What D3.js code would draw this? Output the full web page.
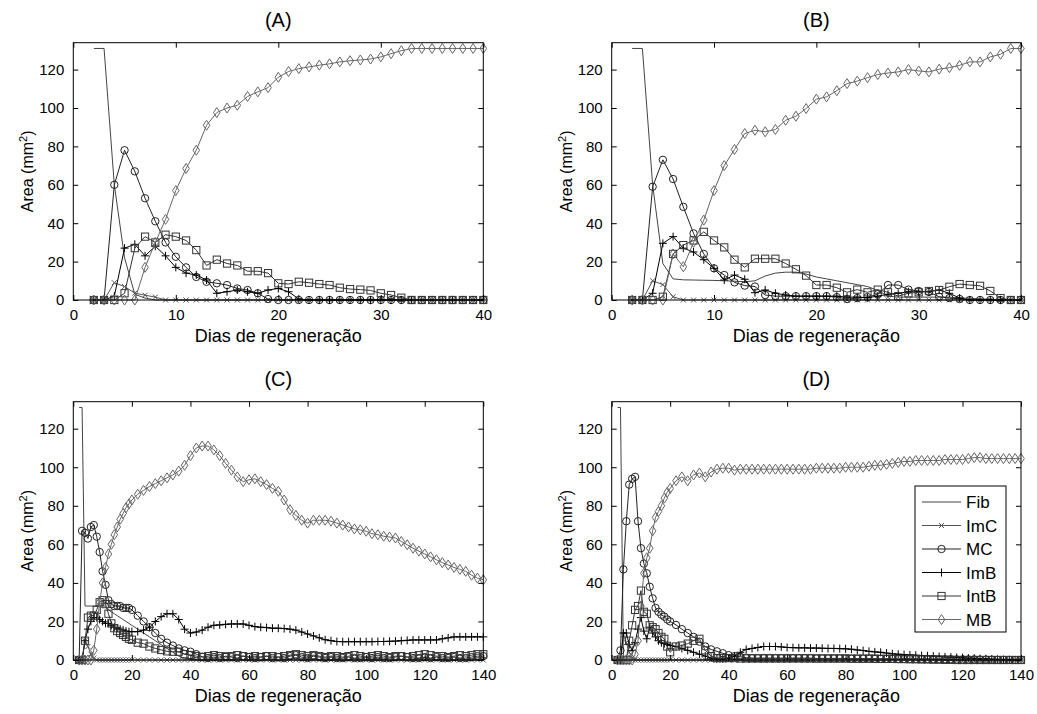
<!DOCTYPE html>
<html>
<head>
<meta charset="utf-8">
<script src="https://cdnjs.cloudflare.com/ajax/libs/d3/7.8.5/d3.min.js"></script>
<style>
body { margin: 0; background: #fff; }
text { font-family: "Liberation Sans", Arial, sans-serif; fill: #000; }
</style>
</head>
<body>
<div id="chart"></div>
<script>
////////////////////////////////////////////////////////////////////////
// Data

let seriesNames = ["Fib", "ImC", "MC", "ImB", "IntB", "MB"];
let seriesMarks = ["none", "x", "circle", "plus", "square", "diamond"];
let seriesColors = ["#444", "#555", "#222", "#000", "#333", "#666"];

// panels A and B : one value per day, days 2..40
let daysAB = [2,3,4,5,6,7,8,9,10,11,12,13,14,15,16,17,18,19,20,21,
              22,23,24,25,26,27,28,29,30,31,32,33,34,35,36,37,38,39,40];

let fibA  = [131,131,60,22,3,1,0,0,0,0,0,0,0,0,0,0,0,0,0,0, 0,0,0,0,0,0,0,0,0,0,0,0,0,0,0,0,0,0,0];
let imcA  = [0,0,9,7,3.6,2.5,1.5,0,0,0,0,0,0,0,0,0,0,0,0,0, 0,0,0,0,0,0,0,0,0,0,0,0,0,0,0,0,0,0,0];
let mcA   = [0,0,60,78,67,53,41,30,22.5,17,12,9.5,8.7,7.8,6,5.2,3.5,0.5,0,0, 0,0,0,0,0,0,0,0,0,0,0,0,0,0,0,0,0,0,0];
let imbA  = [0,0,2,27,29,23,28,23,17,14,13,10.4,3.5,4.3,5.2,4.3,3.5,5.2,6,4.3, 0.5,0,0,0,0,0,0,0,0,0,0,0,0,0,0,0,0,0,0];
let intbA = [0,0,0,3.5,27,33,30,34,33,31,26,18,21,19,18,15,15,14,8.7,8.3, 9.5,9,8.3,7.8,6.4,5.7,5.4,5,3.5,2.6,1.2,0,0,0,0,0,0,0,0];
let mbA   = [0,0,0,0,0,17,30,42,57,68.5,78,91,97.6,100,101.4,106,108.4,110.6,116,119,
             120.5,121.4,122.3,123,124,124.6,125,125.5,126.6,128.3,129.8,131,131,131,131,131,131,131,131];

let fibB  = [131,131,60,19,11,10.5,10.4,10.3,10.2,10,9.8,9.5,10,12.5,14,14.5,14.5,13.5,12,11,
             10,9,8,7,5,2,1.5,1.5,1.5,1.5,1.5,1.5,1,1,0.5,0.5,0,0,0];
let imcB  = [0,0,10,8,1.7,0,0,0,0,0,0,0,0,0,0,0,0,0,0,0, 0,0,0,0,0,0,0,0,0,0,0,0,0,0,0,0,0,0,0];
let mcB   = [0,0,59,73,63,48.5,34.7,24,16.5,13,9.2,7.5,7,2.6,2,2,2,2,2,2,
             1.5,0.5,1,1.5,3,7.8,7.8,5.4,4.7,4.2,1.7,1,0.5,0,0,0,0,0,0];
let imbB  = [0,0,3.5,29.5,33,27,25,21,16.5,10.4,13,10.8,3.8,5.2,3.5,2.6,2,2,2,2,
             2,1.5,1.5,1.2,2,3,3.5,4.3,4.3,4.3,5.2,3.5,1,0,0,0,0,0,0];
let intbB = [0,0,0,1.7,24,28.6,31,35.5,31,27.4,21,17,21.5,21.5,21.5,19,16,12.7,7.8,7.8,
             6.4,4,5.4,4,5.4,4,2,3.5,4,4.7,5.2,6.9,8.3,7.8,7.4,4.7,1,0,0];
let mbB   = [0,0,0,0,24,17.3,30,41.6,57,70,78.4,86.7,88.4,87.6,88.8,93.6,95.7,99.7,104.6,105.8,
             109,112.7,114,115.8,117.4,118.2,118.8,120,119.3,118.8,120.2,121,122.2,124,124,126.6,128,131,131];

// panels C and D : daily up to day 20, then every second day up to 140
let daysCD = [2,3,4,5,6,7,8,9,10,11,12,13,14,15,16,17,18,19,20,
              22,24,26,28,30,32,34,36,38,40,
              42,44,46,48,50,52,54,56,58,60,
              62,64,66,68,70,72,74,76,78,80,
              82,84,86,88,90,92,94,96,98,100,
              102,104,106,108,110,112,114,116,118,120,
              122,124,126,128,130,132,134,136,138,140];

let fibC  = [131,131,28,28,28,28,28,28,28,28,26,25,24,23,22,21,20,19,18,
             16,14,12,10,8,6,4,2,1,0,
             0,0,0,0,0,0,0,0,0,0, 0,0,0,0,0,0,0,0,0,0, 0,0,0,0,0,0,0,0,0,0,
             0,0,0,0,0,0,0,0,0,0, 0,0,0,0,0,0,0,0,0,0];
let imcC  = [0,0,10,7,3,1,0,0,0,0,0,0,0,0,0,0,0,0,0,
             0,0,0,0,0,0,0,0,0,0, 0,0,0,0,0,0,0,0,0,0, 0,0,0,0,0,0,0,0,0,0,
             0,0,0,0,0,0,0,0,0,0, 0,0,0,0,0,0,0,0,0,0, 0,0,0,0,0,0,0,0,0,0];
let mcC   = [0,67,66,63,69,70,64,56,46,39,31,29,28,28,28,27,27,27,26,
             23,20,17,14,11,9,7.5,6,5,4.3,
             3,1.7,1,1.5,1,2,1.5,1,2,1.5,
             1,1.5,2,1,1.5,1,2,2.5,1.5,1,
             2,1.5,1,1.5,1,1,1.5,1,1,1.5,
             1,1.5,1,1,1.5,2,1.5,1,1,1.5,
             1,1.5,1,1,1.5,1,1,1.5,2,2];
let imbC  = [0,0,10,16,20,22,22,21,20,19,19,18,17,16.5,16,15.6,15,14.7,14.7,
             14.7,15.5,17,20,22.5,24,24,21,16,14,
             14.5,15.5,17,18,18.2,18.5,18.7,18.7,18.7,18,
             17.3,17,16.8,16.5,16.5,16.3,16,15.5,14.5,13.5,
             12.5,11.5,10.5,10,9.6,9.5,9.5,9.5,9.5,9.5,
             9.5,9.6,9.6,9.7,9.8,10,10.2,10.4,10.4,10.4,
             10.4,10.4,11,11.5,12,12,12,12,12,12];
let intbC = [0,0,10,22,23,23,26,30,31,29,24,19,16.5,15,14,13,12,11,10.5,
             9,8.5,7,6,5.2,4.5,4.3,4.3,3,2.6,
             2,1.5,2,2.5,2,1.5,2,2.5,2,1.5,
             2,1.5,2,2,1.5,2,2.5,3,2.5,2,
             2.5,2,1.5,2,2,1.5,2,2.5,2,1.5,
             2,2.5,2,1.5,2,2,1.5,2,2.5,3,
             2.5,2,2,1.5,2,2.5,2,2.5,3,3];
let mbC   = [0,0,0,0,0,5,16,30,40,48,55,60,65,69,73,76,79,81,83,
             86,88,90,91.5,93,94.5,96,98,101,106,
             110,111,111,109,106,102,98.5,95,92.5,93.5,
             94,92.5,91,89,87.5,83,78,75,72.5,71,
             72.5,72.5,72.5,72,71,70,69,68,67.5,66.8,
             65.5,65,64.2,63.8,63.3,61.5,59.8,58,56.5,55,
             53.5,52,50.5,49.3,48,47,46,44,42.5,41.6];

let fibD  = [131,131,0,0,0,0,0,0,0,0,0,0,0,0,0,0,0,0,0,
             0,0,0,0,0,0,0,0,0,0, 0,0,0,0,0,0,0,0,0,0, 0,0,0,0,0,0,0,0,0,0,
             0,0,0,0,0,0,0,0,0,0, 0,0,0,0,0,0,0,0,0,0, 0,0,0,0,0,0,0,0,0,0];
let imcD  = [0,0,13,9,4,1,0,0,0,0,0,0,0,0,0,0,0,0,0,
             0,0,0,0,0,0,0,0,0,0, 0,0,0,0,0,0,0,0,0,0, 0,0,0,0,0,0,0,0,0,0,
             0,0,0,0,0,0,0,0,0,0, 0,0,0,0,0,0,0,0,0,0, 0,0,0,0,0,0,0,0,0,0];
let mcD   = [0,5,47,72,91,94,95,72,58,50,45,38,32,27,25,23.5,22.5,21,20,
             18.2,16,14,12,9.5,7,5.5,4.5,3.5,2.5,
             2,1.7,1.2,1,1,1,1,1,1,1,
             1,1,1,1,0.8,0.8,0.8,0.8,0.8,0.8,
             0.7,0.7,0.7,0.7,0.6,0.6,0.6,0.6,0.5,0.5,
             0.5,0.5,0.5,0.5,0.4,0.4,0.4,0.4,0.3,0.3,
             0.3,0.3,0.2,0.2,0.2,0.1,0.1,0.1,0,0];
let imbD  = [0,0,14,14,8,5,9,16,22,15,11,17,14,12,10,9,8.5,8,7.5,
             7,6,5,4,3,2,1,0.5,0.5,1,
             2,4,5.5,6,6.5,7,7,7,6.8,6.5,
             6.4,6.3,6.3,6.2,6.2,6.1,6,6,5.9,5.8,
             5.6,5.2,4.9,4.5,4.2,4,3.6,3.2,3,2.8,
             2.6,2.5,2.3,2.2,2,1.8,1.6,1.5,1.3,1.2,
             1,0.9,0.7,0.6,0.4,0.3,0.1,0,0,0];
let intbD = [0,0,0,0,10,18,26,28,36,25,24,18,17,16,14,12,11,7,4,
             7,7.5,8.5,10,11,5,2,1,1,1,
             1,0.8,0.8,0.8,0.8,0.8,0.8,0.8,0.8,0.8,
             0.8,0.8,0.8,0.8,0.8,0.8,0.8,0.8,0.8,0.8,
             0.7,0.7,0.7,0.7,0.7,0.6,0.6,0.6,0.5,0.5,
             0.4,0.4,0.3,0.3,0.2,0.2,0.1,0.1,0,0,
             0,0,0,0,0,0,0,0,0,0];
let mbD   = [0,0,0,0,0,0,3,10,28,45,53,58,67,74,77,80,84,87,89,
             93,95,93,96,97,95,97.5,99,99.5,99.5,
             98.5,99,99,99,99,99,99,99,99,99,
             99,99,99,99,99.5,99.5,99.5,99.5,99.5,100,
             100,100,100,100.5,101,101,101.5,102,102.5,103,
             103,103.5,103.5,103.5,103.5,103.5,104,104,104,104,
             104.5,105,105,104.5,104.5,104.5,104.5,104.5,104.5,104.5];

let yTicks = [0, 20, 40, 60, 80, 100, 120];

////////////////////////////////////////////////////////////////////////
// Layout

let panels = [
  { title: "(A)", left: 73.3, right: 483.3, top: 42.7, bottom: 300, xmax: 40,
    xticks: [0,10,20,30,40], days: daysAB, series: [fibA, imcA, mcA, imbA, intbA, mbA] },
  { title: "(B)", left: 611.7, right: 1021, top: 42.7, bottom: 300, xmax: 40,
    xticks: [0,10,20,30,40], days: daysAB, series: [fibB, imcB, mcB, imbB, intbB, mbB] },
  { title: "(C)", left: 73.3, right: 483.3, top: 401.7, bottom: 660, xmax: 140,
    xticks: [0,20,40,60,80,100,120,140], days: daysCD, series: [fibC, imcC, mcC, imbC, intbC, mbC] },
  { title: "(D)", left: 611.7, right: 1021, top: 401.7, bottom: 660, xmax: 140,
    xticks: [0,20,40,60,80,100,120,140], days: daysCD, series: [fibD, imcD, mcD, imbD, intbD, mbD], legend: true }
];

let svg = d3.select("#chart")
  .append("svg")
  .attr("width", 1037)
  .attr("height", 714);

function drawMarker(g, type, cx, cy, color)
{
  if (type == "circle") {
    g.append("circle").attr("cx", cx).attr("cy", cy).attr("r", 3.7)
      .attr("fill", "none").attr("stroke", color);
  } else if (type == "square") {
    g.append("rect").attr("x", cx - 3.6).attr("y", cy - 3.6)
      .attr("width", 7.2).attr("height", 7.2)
      .attr("fill", "none").attr("stroke", color);
  } else if (type == "diamond") {
    g.append("path")
      .attr("d", "M" + cx + "," + (cy - 5) + "L" + (cx + 3.3) + "," + cy +
                 "L" + cx + "," + (cy + 5) + "L" + (cx - 3.3) + "," + cy + "Z")
      .attr("fill", "none").attr("stroke", color);
  } else if (type == "plus") {
    g.append("path")
      .attr("d", "M" + (cx - 4) + "," + cy + "H" + (cx + 4) + "M" + cx + "," + (cy - 4) + "V" + (cy + 4))
      .attr("stroke", color);
  } else if (type == "x") {
    g.append("path")
      .attr("d", "M" + (cx - 2.5) + "," + (cy - 2.5) + "L" + (cx + 2.5) + "," + (cy + 2.5) +
                 "M" + (cx - 2.5) + "," + (cy + 2.5) + "L" + (cx + 2.5) + "," + (cy - 2.5))
      .attr("stroke", color);
  }
}

////////////////////////////////////////////////////////////////////////
// Panels

panels.forEach(function(p) {
  let xScale = d3.scaleLinear().domain([0, p.xmax]).range([p.left, p.right]);
  let yScale = d3.scaleLinear().domain([0, 134]).range([p.bottom, p.top]);
  let g = svg.append("g");

  // series lines + markers
  p.series.forEach(function(vals, si) {
    let pts = p.days.map(function(d, i) { return { day: d, v: vals[i] }; });
    let line = d3.line()
      .x(function(d) { return xScale(d.day); })
      .y(function(d) { return yScale(d.v); });
    g.append("path")
      .attr("d", line(pts))
      .attr("fill", "none")
      .attr("stroke", seriesColors[si])
      .attr("stroke-width", 1);
    let mg = g.append("g");
    pts.forEach(function(d) {
      drawMarker(mg, seriesMarks[si], xScale(d.day), yScale(d.v), seriesColors[si]);
    });
  });

  // axes, ticks pointing inwards on all four sides
  let bottomAxis = g.append("g")
    .attr("transform", "translate(0," + p.bottom + ")")
    .call(d3.axisBottom(xScale).tickValues(p.xticks).tickSize(-5).tickPadding(9));
  g.append("g")
    .attr("transform", "translate(0," + p.top + ")")
    .call(d3.axisTop(xScale).tickValues(p.xticks).tickSize(-5).tickFormat(""));
  let leftAxis = g.append("g")
    .attr("transform", "translate(" + p.left + ",0)")
    .call(d3.axisLeft(yScale).tickValues(yTicks).tickSize(-5).tickPadding(9));
  g.append("g")
    .attr("transform", "translate(" + p.right + ",0)")
    .call(d3.axisRight(yScale).tickValues(yTicks).tickSize(-5).tickFormat(""));

  g.selectAll(".domain").remove();
  g.selectAll(".tick line").attr("stroke", "#000");
  g.selectAll(".tick text").attr("font-size", 15).attr("font-family", "Liberation Sans, Arial, sans-serif");

  g.append("rect")
    .attr("x", p.left).attr("y", p.top)
    .attr("width", p.right - p.left).attr("height", p.bottom - p.top)
    .attr("fill", "none").attr("stroke", "#000").attr("stroke-width", 1);

  // titles and labels
  let midX = (p.left + p.right) / 2;
  g.append("text")
    .attr("x", midX).attr("y", p.top - 16)
    .attr("text-anchor", "middle").attr("font-size", 20)
    .text(p.title);
  g.append("text")
    .attr("x", midX).attr("y", p.bottom + 42)
    .attr("text-anchor", "middle").attr("font-size", 18)
    .text("Dias de regeneração");
  let yl = g.append("text")
    .attr("transform", "translate(" + (p.left - 40) + "," + ((p.top + p.bottom) / 2) + ") rotate(-90)")
    .attr("text-anchor", "middle").attr("font-size", 16);
  yl.append("tspan").text("Area (mm");
  yl.append("tspan").attr("baseline-shift", "super").attr("font-size", 11).text("2");
  yl.append("tspan").text(")");

  // legend
  if (p.legend) {
    let lg = g.append("g");
    lg.append("rect")
      .attr("x", 915).attr("y", 486).attr("width", 91).attr("height", 146)
      .attr("fill", "#fff").attr("stroke", "#000");
    seriesNames.forEach(function(name, si) {
      let ly = 502 + si * 23.5;
      lg.append("line")
        .attr("x1", 922).attr("x2", 961).attr("y1", ly).attr("y2", ly)
        .attr("stroke", seriesColors[si]);
      drawMarker(lg, seriesMarks[si], 941.5, ly, seriesColors[si]);
      lg.append("text")
        .attr("x", 966).attr("y", ly + 6)
        .attr("font-size", 17)
        .text(name);
    });
  }
});
</script>
</body>
</html>
